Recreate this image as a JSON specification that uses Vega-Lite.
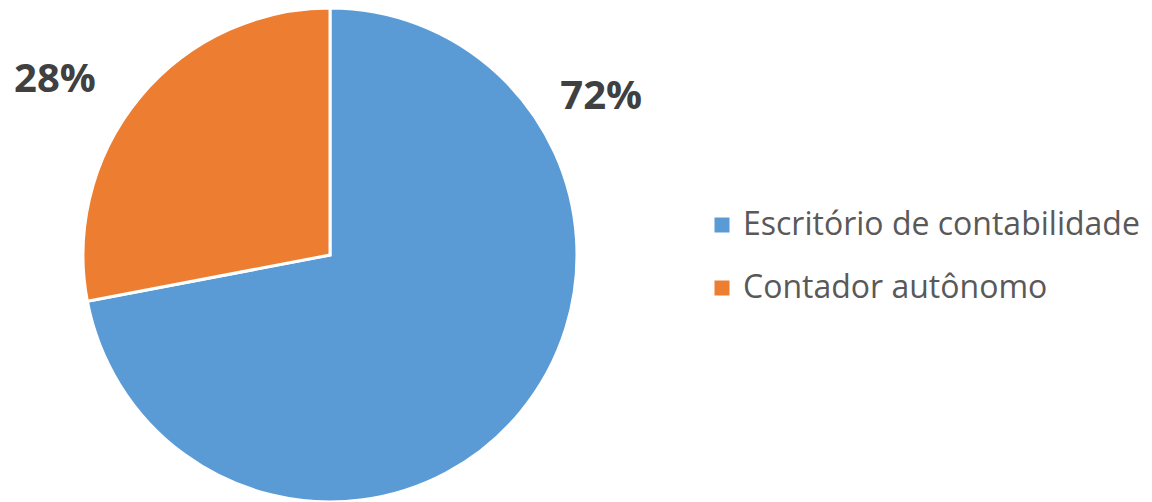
{
  "$schema": "https://vega.github.io/schema/vega-lite/v6.json",
  "width": 660,
  "height": 494,
  "autosize": "none",
  "padding": {"left": 0, "top": 8, "right": 492, "bottom": 0},
  "background": "white",
  "config": {"view": {"stroke": null}},
  "data": {
    "values": [
      {"categoria": "Escritório de contabilidade", "valor": 72, "rotulo": "72%", "ordem": 1},
      {"categoria": "Contador autônomo", "valor": 28, "rotulo": "28%", "ordem": 2}
    ]
  },
  "layer": [
    {
      "mark": {"type": "arc", "stroke": "white", "strokeWidth": 3},
      "encoding": {
        "theta": {"field": "valor", "type": "quantitative", "stack": true},
        "order": {"field": "ordem", "type": "quantitative"},
        "color": {
          "field": "categoria",
          "type": "nominal",
          "scale": {
            "domain": ["Escritório de contabilidade", "Contador autônomo"],
            "range": ["#5B9BD5", "#ED7D31"]
          },
          "legend": {
            "title": null,
            "orient": "none",
            "legendX": 706,
            "legendY": 201,
            "padding": 0,
            "symbolType": "square",
            "symbolSize": 225,
            "symbolStrokeWidth": 0,
            "labelFont": "Open Sans",
            "labelFontSize": 32,
            "labelColor": "#595959",
            "labelOffset": 5,
            "labelLimit": 600,
            "rowPadding": 31
          }
        }
      }
    },
    {
      "transform": [{"filter": "datum.ordem == 1"}],
      "mark": {
        "type": "text",
        "theta": 1.0428,
        "radius": 314,
        "font": "Open Sans",
        "fontWeight": "bold",
        "fontSize": 40,
        "fill": "#404040",
        "align": "center",
        "baseline": "middle"
      },
      "encoding": {"text": {"field": "rotulo", "type": "nominal"}}
    },
    {
      "transform": [{"filter": "datum.ordem == 2"}],
      "mark": {
        "type": "text",
        "theta": 5.279,
        "radius": 326,
        "font": "Open Sans",
        "fontWeight": "bold",
        "fontSize": 40,
        "fill": "#404040",
        "align": "center",
        "baseline": "middle"
      },
      "encoding": {"text": {"field": "rotulo", "type": "nominal"}}
    }
  ]
}
